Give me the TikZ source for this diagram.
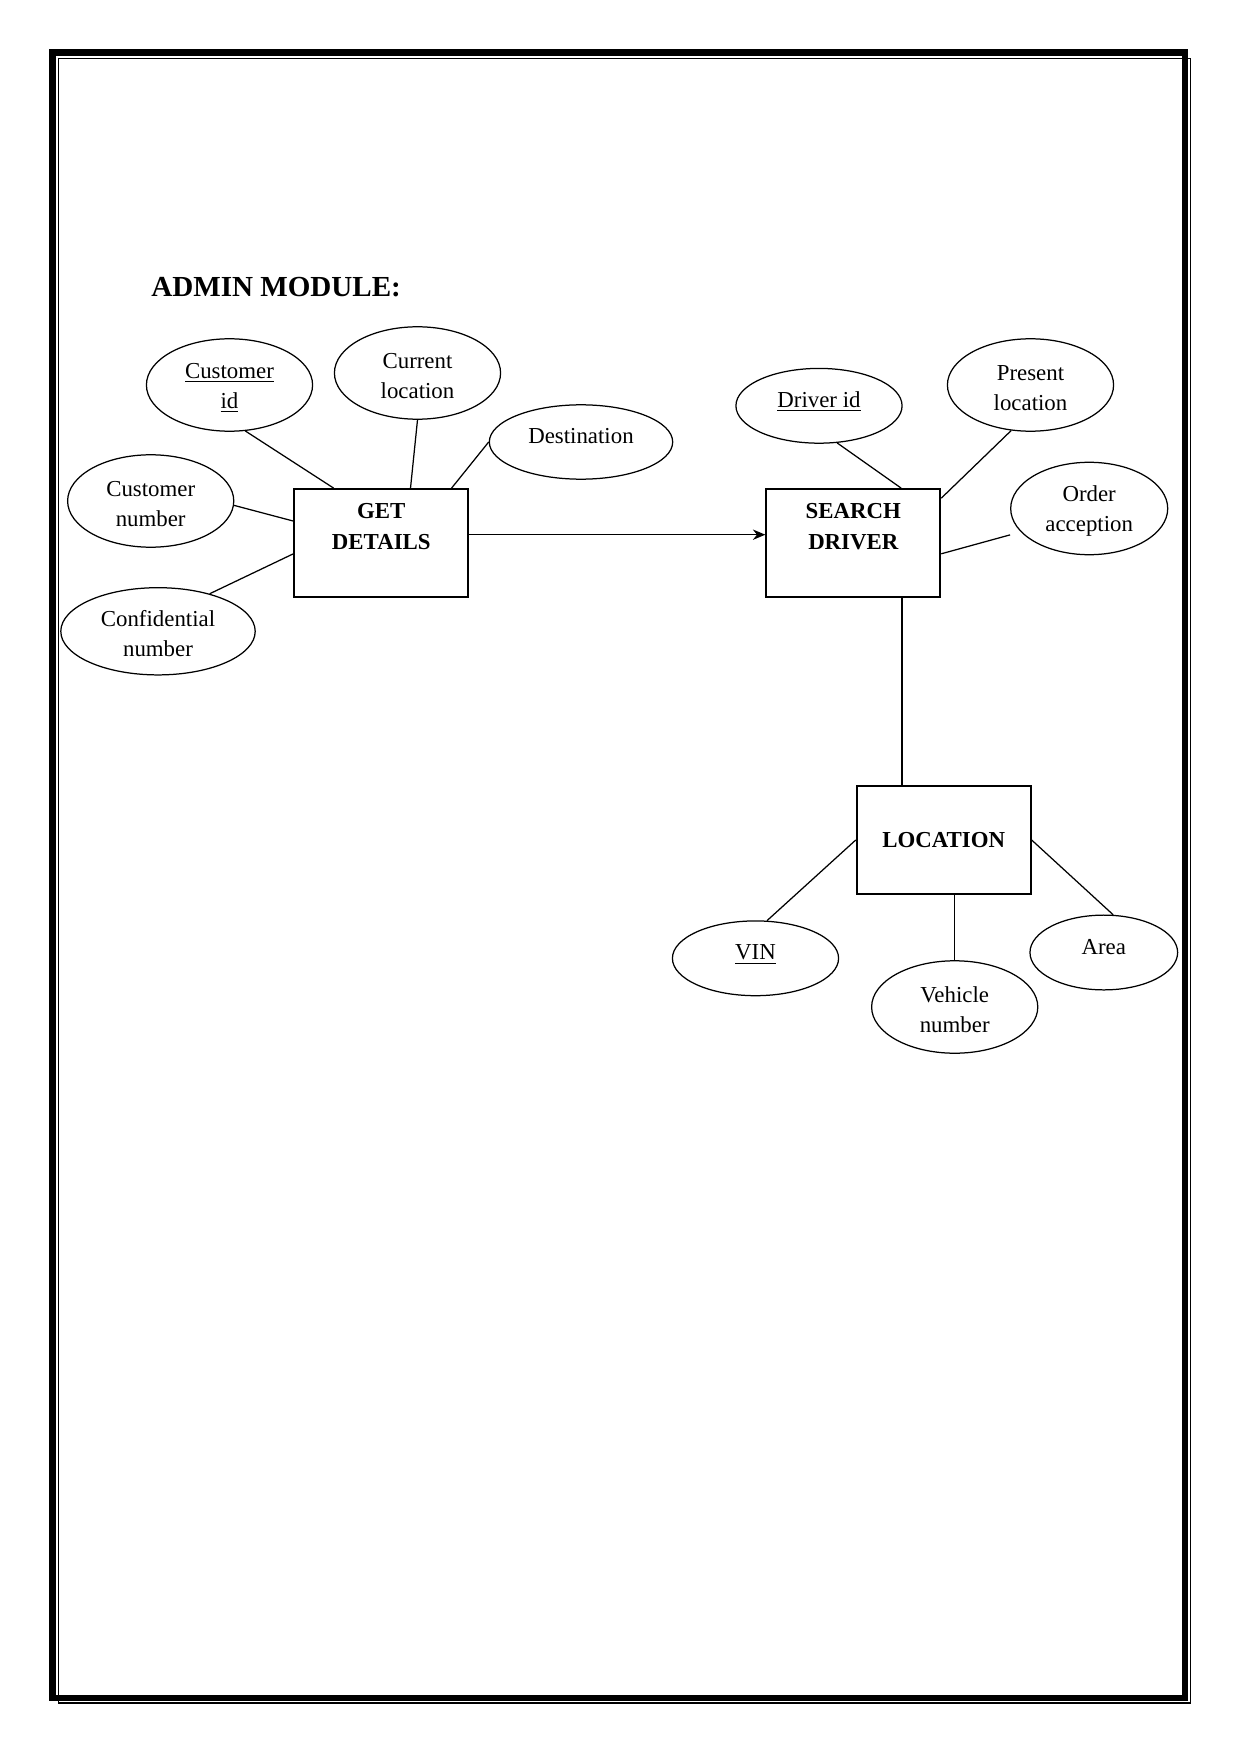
\documentclass[tikz,border=0pt]{standalone}
\usepackage{fontspec}
\setmainfont{Liberation Serif}
\usetikzlibrary{shapes.geometric}
\usetikzlibrary{arrows.meta}
\usetikzlibrary{positioning}

\begin{document}
\begin{tikzpicture}[
x=0.016922cm, y=-0.016922cm,
every node/.style={inner sep=0, font=\fontsize{11}{14.4}\selectfont},
attr/.style={ellipse, draw=black, line width=0.6pt, align=center, minimum width=80pt, minimum height=44.5pt},
twoline/.style={attr, text height=24.7pt},
lift/.style={text depth=5.8pt},
entity/.style={rectangle, draw=black, line width=0.9pt, minimum width=83.8pt, minimum height=52pt, font=\fontsize{11}{14.9}\selectfont\bfseries},
head/.style={anchor=north, yshift=-6.9pt, align=center, font=\fontsize{11}{14.9}\selectfont\bfseries},
heading/.style={anchor=base west, font=\fontsize{14}{17}\selectfont\bfseries},
every path/.style={line width=0.6pt}
]
\useasboundingbox (0,0) rectangle (1241,1754);

% page frame
\draw [line width=2.9pt] (52.5,52.5) rectangle (1184.5,1698);
\draw [line width=0.6pt] (58.8,58.8) rectangle (1190.5,1702.9);

\node [heading] (title) at (150.7,296.7) {ADMIN MODULE:};

% entities
\node [entity, label={[head]north:{GET\\DETAILS}}] (gd) at (381.3,543) {};
\node [entity, label={[head]north:{SEARCH\\DRIVER}}] (sd) at (853.3,543) {};
\node [entity] (loc) at (943.7,840) {LOCATION};

% attributes
\node [twoline] (cid) at (229.5,385) {\underline{Customer}\\\underline{id}};
\node [twoline] (cl) at (417.5,373) {Current\\location};
\node [attr, lift, minimum width=88.3pt, minimum height=35.8pt] (dest) at (581,442) {Destination};
\node [twoline] (cn) at (150.7,501) {Customer\\number};
\node [twoline, minimum width=93.6pt, minimum height=42pt] (conf) at (158,631.3) {Confidential\\number};
\node [attr, lift, minimum height=36pt] (did) at (819,405.8) {\underline{Driver id}};
\node [twoline] (pl) at (1030.5,385) {Present\\location};
\node [twoline, minimum width=75.6pt] (oa) at (1089.2,508.5) {Order\\acception};
\node [attr, lift, minimum height=36pt] (vin) at (755.5,958.3) {\underline{VIN}};
\node [twoline] (vn) at (954.7,1007) {Vehicle\\number};
\node [attr, lift, minimum width=71.1pt, minimum height=36pt] (area) at (1103.8,952.5) {Area};

\draw (cid.-71) -- (gd.131);
\draw (cl.south) -- (gd.62);
\draw (dest.west) -- (gd.38.5);
\draw (cn.-3) -- (gd.166);
\draw (conf.36) -- (gd.187);

\draw [-{Stealth[length=6pt, width=5pt]}] ([yshift=4pt]gd.east) -- ([yshift=4pt]sd.west);

\draw (did.-64) -- (sd.49);
\draw (pl.-113) -- (sd.27);
\draw ([yshift=-12.7pt]oa.west) -- (sd.-7);

\coordinate (sdout) at ([xshift=23.4pt]sd.south);
\draw (sdout) -- (sdout |- loc.north);

\draw (vin.73) -- (loc.west);
\draw [line width=0.5pt] (vn.north) -- (vn.north |- loc.south);
\draw (loc.east) -- (area.76);
\end{tikzpicture}
\end{document}
